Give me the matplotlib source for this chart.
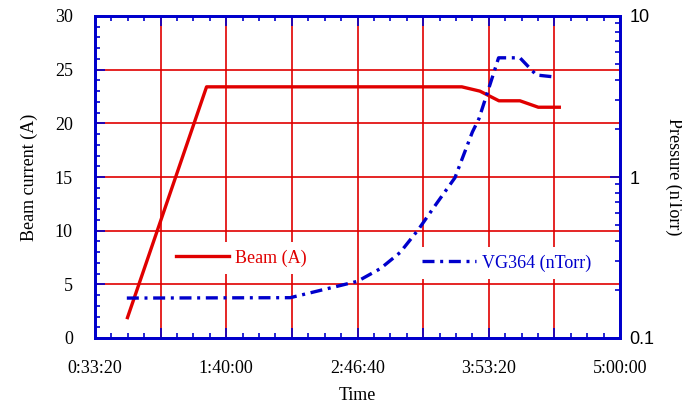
import matplotlib
matplotlib.use("Agg")
import matplotlib.pyplot as plt
from matplotlib.ticker import FuncFormatter, MultipleLocator, LogLocator, NullFormatter

# time in seconds, beam current in A
beam_t = [2990, 5400, 13180, 13730, 14310, 14950, 15510, 16150]
beam_a = [1.9, 23.4, 23.4, 23.0, 22.1, 22.1, 21.5, 21.5]

# time in seconds, VG364 pressure in nTorr
vg_t = [2970, 7950, 9400, 10000, 10700, 11300, 11850, 12400, 12970, 13500, 13700,
        13950, 14300, 14950, 15450, 15920]
vg_p = [0.177, 0.178, 0.21, 0.225, 0.27, 0.34, 0.47, 0.68, 0.99, 1.9, 2.3,
        3.3, 5.5, 5.5, 4.3, 4.2]

x_ticks = [2000, 6000, 10000, 14000, 18000]

RED = "#e00000"
BLUE = "#0000cc"
SERIF = "Liberation Serif"
SANS = "Liberation Sans"
FS = 13


def hms(s, pos=None):
    s = int(round(s))
    if s not in x_ticks:
        return ""
    return "%d:%02d:%02d" % (s // 3600, (s % 3600) // 60, s % 60)


fig = plt.figure(figsize=(6.82, 4.05), dpi=100)
ax = fig.add_axes([95 / 682, 1 - 338 / 405, 525 / 682, 322 / 405])
ax2 = ax.twinx()

ax.plot(beam_t, beam_a, color=RED, lw=2.4, label="Beam (A)")
ax2.plot(vg_t, vg_p, color=BLUE, lw=2.4, ls=(0, (3.6, 1.7, 0.9, 1.7)), label="VG364 (nTorr)")

ax.set_xlim(2000, 18000)
ax.set_ylim(0, 30)
ax2.set_yscale("log")
ax2.set_ylim(0.1, 10)

# major ticks at every grid line, labels only every 4000 s
ax.xaxis.set_major_locator(MultipleLocator(2000))
ax.xaxis.set_major_formatter(FuncFormatter(hms))
ax.xaxis.set_minor_locator(MultipleLocator(500))
ax.yaxis.set_major_locator(MultipleLocator(5))
ax.yaxis.set_minor_locator(MultipleLocator(1))

ax.grid(True, which="major", color=RED, lw=1.2)
ax.set_axisbelow(True)

ax.tick_params(axis="x", which="both", direction="in", top=True, bottom=True, color=BLUE, width=1.2)
ax.tick_params(axis="x", which="major", length=7, pad=16, labelsize=FS)
ax.tick_params(axis="x", which="minor", length=3.5)
ax.tick_params(axis="y", which="both", direction="in", left=True, right=False, color=BLUE, width=1.2)
ax.tick_params(axis="y", which="major", length=7, pad=16, labelsize=FS)
ax.tick_params(axis="y", which="minor", length=3.5)

ax2.yaxis.set_major_locator(LogLocator(base=10, numticks=5))
ax2.yaxis.set_minor_locator(LogLocator(base=10, subs=range(2, 10), numticks=5))
ax2.yaxis.set_minor_formatter(NullFormatter())
ax2.yaxis.set_major_formatter(FuncFormatter(lambda v, p: "%g" % v))
ax2.tick_params(axis="y", which="both", direction="in", color=BLUE, width=1.2)
ax2.tick_params(axis="y", which="major", length=7, pad=7, labelsize=FS)
ax2.tick_params(axis="y", which="minor", length=3.5)

for lab in ax.get_xticklabels() + ax.get_yticklabels():
    lab.set_family(SERIF)
for lab in ax2.get_yticklabels():
    lab.set_family(SANS)

for a in (ax, ax2):
    for sp in a.spines.values():
        sp.set_color(BLUE)
        sp.set_linewidth(2)

ax.set_xlabel("Time", family=SERIF, fontsize=FS)
ax.xaxis.set_label_coords(0.5, -0.152)
ax.set_ylabel("Beam current (A)", family=SERIF, fontsize=FS, va="center")
ax.yaxis.set_label_coords((29.5 - 95) / 525, 0.5)
ax2.set_ylabel("Pressure (nTorr)", family=SERIF, fontsize=FS, rotation=270, va="center")
ax2.yaxis.set_label_coords((674 - 95) / 525, 0.5)

leg1 = ax.legend(loc="center left", bbox_to_anchor=(0.14, 0.248), frameon=True, fancybox=False,
                 edgecolor="none", framealpha=1, handlelength=2.95, handletextpad=0.35,
                 borderpad=0.4, borderaxespad=0, prop={"family": SERIF, "size": FS})
for txt in leg1.get_texts():
    txt.set_color(RED)
leg2 = ax2.legend(loc="center left", bbox_to_anchor=(0.61, 0.233), frameon=True, fancybox=False,
                  edgecolor="none", framealpha=1, handlelength=2.95, handletextpad=0.35,
                  borderpad=0.4, borderaxespad=0, prop={"family": SERIF, "size": FS})
for txt in leg2.get_texts():
    txt.set_color(BLUE)

fig.savefig("out.png", dpi=100)
